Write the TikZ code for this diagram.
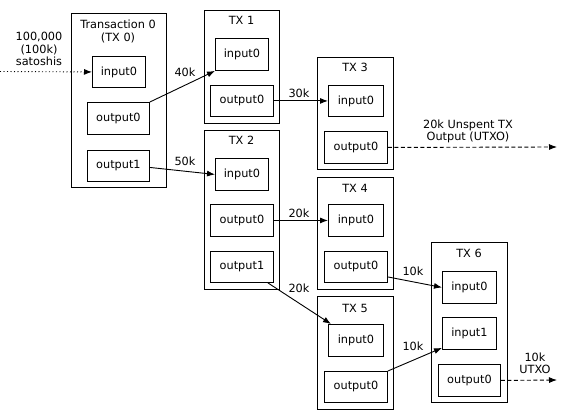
\documentclass[tikz,border=0pt]{standalone}
\usepackage{fontspec}
\setmainfont{DejaVu Sans}
\usetikzlibrary{arrows.meta}
\begin{document}
\begin{tikzpicture}[x=1pt,y=-1pt,
  every node/.style={font=\fontsize{11.3}{14}\selectfont},
  box/.style={draw, line width=0.9pt, anchor=north west, inner sep=0pt},
  title/.style={inner sep=0pt, align=center},
  lbl/.style={inner sep=0pt, align=center},
  conn/.style={line width=0.9pt, -{Latex[length=8pt,width=6pt]}},
  utxo/.style={conn, dashed, dash pattern=on 4pt off 2.5pt},
  src/.style={conn, dash pattern=on 1pt off 2.5pt}]
\useasboundingbox (0,0) rectangle (563,411);
% TX 0
\node[box, minimum width=95pt, minimum height=174pt] (tx0) at (71,13) {};
\node[title] (tx0t) at (118,31) {Transaction 0\\[-1pt](TX 0)};
\node[box, minimum width=53pt, minimum height=31pt] (t0i0) at (92,56) {input0};
\node[box, minimum width=62pt, minimum height=32pt] (t0o0) at (87,102) {output0};
\node[box, minimum width=62pt, minimum height=31pt] (t0o1) at (87,150) {output1};
% TX 1
\node[box, minimum width=75pt, minimum height=113pt] (tx1) at (204,10) {};
\node[title] (tx1t) at (241.5,20) {TX 1};
\node[box, minimum width=53pt, minimum height=32pt] (t1i0) at (215,38) {input0};
\node[box, minimum width=63pt, minimum height=31pt] (t1o0) at (210,85) {output0};
% TX 2
\node[box, minimum width=75pt, minimum height=159pt] (tx2) at (204,130) {};
\node[title] (tx2t) at (241.5,140) {TX 2};
\node[box, minimum width=53pt, minimum height=32pt] (t2i0) at (215,158) {input0};
\node[box, minimum width=63pt, minimum height=32pt] (t2o0) at (210,204) {output0};
\node[box, minimum width=63pt, minimum height=31pt] (t2o1) at (210,251) {output1};
% TX 3
\node[box, minimum width=76pt, minimum height=112pt] (tx3) at (317,57) {};
\node[title] (tx3t) at (355,67) {TX 3};
\node[box, minimum width=55pt, minimum height=31pt] (t3i0) at (328,85) {input0};
\node[box, minimum width=63pt, minimum height=32pt] (t3o0) at (324,131) {output0};
% TX 4
\node[box, minimum width=76pt, minimum height=112pt] (tx4) at (317,177) {};
\node[title] (tx4t) at (355,188) {TX 4};
\node[box, minimum width=55pt, minimum height=32pt] (t4i0) at (328,204) {input0};
\node[box, minimum width=63pt, minimum height=31pt] (t4o0) at (324,251) {output0};
% TX 5
\node[box, minimum width=76pt, minimum height=113pt] (tx5) at (317,296) {};
\node[title] (tx5t) at (355,308) {TX 5};
\node[box, minimum width=55pt, minimum height=32pt] (t5i0) at (328,324) {input0};
\node[box, minimum width=63pt, minimum height=31pt] (t5o0) at (324,371) {output0};
% TX 6
\node[box, minimum width=76pt, minimum height=160pt] (tx6) at (431,242) {};
\node[title] (tx6t) at (469,253) {TX 6};
\node[box, minimum width=54pt, minimum height=32pt] (t6i0) at (442,271) {input0};
\node[box, minimum width=54pt, minimum height=32pt] (t6i1) at (442,317) {input1};
\node[box, minimum width=62pt, minimum height=32pt] (t6o0) at (438,364) {output0};
% source
\node[lbl] (srct) at (39,49) {100,000\\[-1.5pt](100k)\\[-1.5pt]satoshis};
\coordinate (src) at (0,71.5);
\coordinate (end1) at (557,147);
\coordinate (end2) at (557,380);
% connectors
\draw[src] (src) -- (t0i0.west);
\draw[conn] (t0o0.north east) -- (t1i0.south west);
\draw[conn] ([yshift=-1.5pt]t0o1.east) -- (t2i0.west);
\draw[conn] (t1o0.east) -- (t3i0.west);
\draw[conn] (t2o0.east) -- (t4i0.west);
\draw[conn] ([xshift=-6pt]t2o1.south east) -- ([xshift=3pt]t5i0.north west);
\draw[conn] ([yshift=-10pt]t4o0.east) -- (t6i0.west);
\draw[conn] (t5o0.north east) -- ([yshift=2pt]t6i1.south west);
\draw[utxo] (t3o0.east) -- (end1);
\draw[utxo] (t6o0.east) -- (end2);
% labels
\node[lbl] (l40) at (185,72) {40k};
\node[lbl] (l50) at (185,161) {50k};
\node[lbl] (l30) at (299,93) {30k};
\node[lbl] (l20a) at (299,213) {20k};
\node[lbl] (l20b) at (299,288) {20k};
\node[lbl] (l10a) at (413,271) {10k};
\node[lbl] (l10b) at (413,346) {10k};
\node[lbl] (lu1) at (468,131.5) {20k Unspent TX\\[-1.5pt]Output (UTXO)};
\node[lbl] (lu2) at (535,363.5) {10k\\[-1.5pt]UTXO};
\end{tikzpicture}
\end{document}
